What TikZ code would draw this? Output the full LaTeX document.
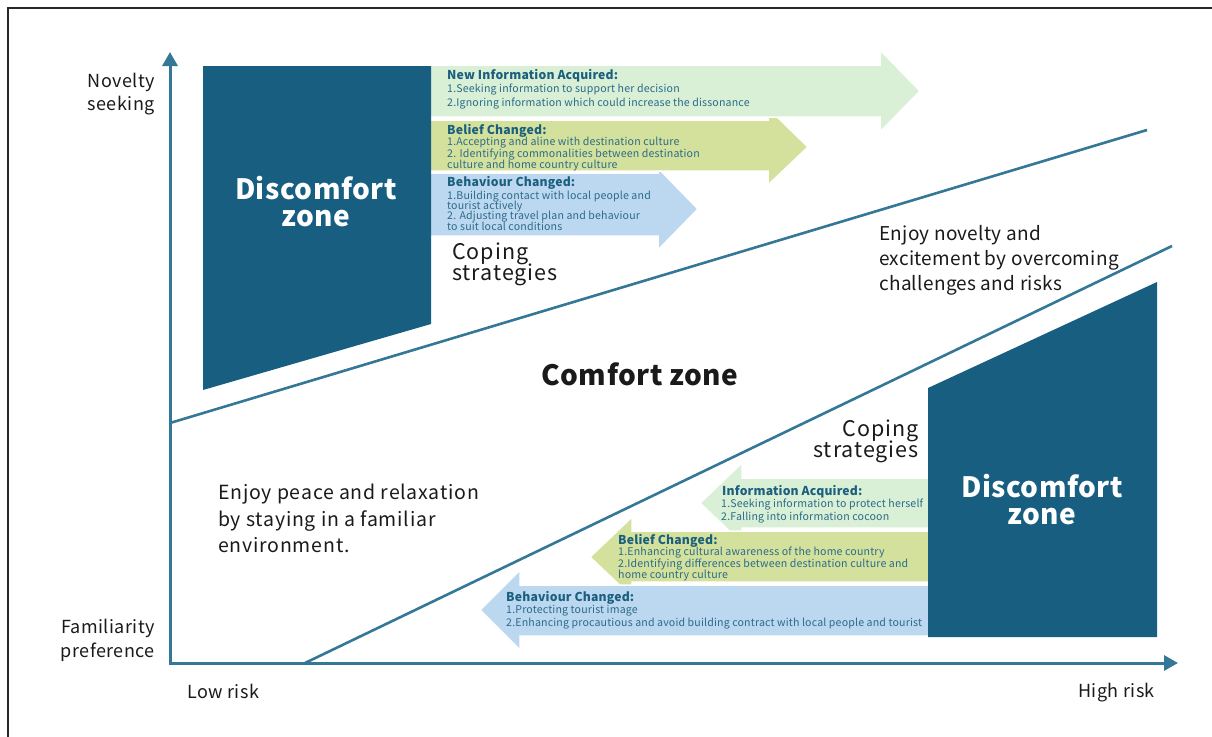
\documentclass[tikz,border=0pt]{standalone}
\usepackage{fontspec}
\setmainfont{Noto Sans CJK SC}
\usetikzlibrary{arrows.meta}
\definecolor{zonefill}{RGB}{24,94,128}
\definecolor{axisblue}{RGB}{52,119,150}
\definecolor{infogreen}{RGB}{217,239,214}
\definecolor{beliefgreen}{RGB}{212,225,157}
\definecolor{behavblue}{RGB}{188,216,240}
\definecolor{headteal}{RGB}{27,95,126}
\definecolor{itemteal}{RGB}{42,107,138}
\definecolor{inkblack}{RGB}{26,26,26}
\definecolor{framegray}{RGB}{40,40,40}

% font size with tracking: size, leading, letter spacing (fixed leading, no lineskip)
\newcommand{\tracked}[3]{\fontsize{#1}{#2}\selectfont\addfontfeatures{LetterSpace=#3}\lineskiplimit=-30pt\lineskip=0pt}

\begin{document}
\begin{tikzpicture}[x=1pt,y=-1pt,
  axisline/.style={draw=axisblue, line width=3pt, line join=miter},
  zoneline/.style={draw=axisblue, line width=2.6pt},
  zoneshape/.style={fill=zonefill},
  bandarrow/.style={draw=white, line width=1.5pt, line join=miter},
  zonelabel/.style={text=white, inner sep=0pt, align=center, font=\bfseries\tracked{28}{26.5}{1.8}, anchor=base},
  axistext/.style={text=inkblack, inner sep=0pt, font=\tracked{18}{23.5}{2.5}},
  copetext/.style={text=inkblack, inner sep=0pt, font=\tracked{21.5}{20.5}{4.5}},
  headtext/.style={text=headteal, inner sep=0pt, anchor=base west, font=\bfseries\tracked{12.2}{13}{1.5}},
  itemtext/.style={text=itemteal, inner sep=0pt, anchor=base west, align=left},
]
% page area and frame
\useasboundingbox (0,0) rectangle (1212,736);
\draw[framegray, line width=1.5pt] (8,745) -- (8,8) -- (1220,8);

% coping-strategy bands, upper group (pointing right)
\fill[behavblue, bandarrow] (425,173) -- (658,173) -- (658,168) -- (698,209) -- (658,250) -- (658,236) -- (425,236) -- cycle;
\fill[beliefgreen, bandarrow] (425,120) -- (768,120) -- (768,108) -- (808,147) -- (768,185) -- (768,171) -- (425,171) -- cycle;
\fill[infogreen, bandarrow] (425,65) -- (880,65) -- (880,50) -- (920,91) -- (880,132) -- (880,117) -- (425,117) -- cycle;

% coping-strategy bands, lower group (pointing left)
\fill[infogreen, bandarrow] (935,478) -- (742,478) -- (742,463) -- (700,503) -- (742,543) -- (742,528) -- (935,528) -- cycle;
\fill[beliefgreen, bandarrow] (935,531) -- (632,531) -- (632,517) -- (590,557) -- (632,597) -- (632,582) -- (935,582) -- cycle;
\fill[behavblue, bandarrow] (935,585) -- (520,585) -- (520,570) -- (480,610) -- (520,650) -- (520,636) -- (935,636) -- cycle;

% discomfort zones
\fill[zoneshape] (203,66) -- (431,66) -- (431,324) -- (203,390) -- cycle;
\fill[zoneshape] (928,388) -- (1157,282) -- (1157,637) -- (928,637) -- cycle;

% axes
\coordinate (origin) at (170,663);
\coordinate (ytip) at (170,52);
\coordinate (xtip) at (1178,663);
\draw[axisline, {Triangle[width=15pt,length=14pt]}-{Triangle[width=15pt,length=14pt]}] (ytip) -- (origin) -- (xtip);

% zone boundaries
\coordinate (upA) at (170,423);
\coordinate (upB) at (1147,130);
\coordinate (loA) at (305,663);
\coordinate (loB) at (1172,246);
\draw[zoneline] (upA) -- (upB);
\draw[zoneline] (loA) -- (loB);

% zone labels (multi-line nodes sit on their last baseline)
\node[zonelabel] (dz1) at (316,226) {Discomfort\\zone};
\node[zonelabel] (dz2) at (1042,524) {Discomfort\\zone};
\node[zonelabel, text=inkblack] (cz) at (640,385) {Comfort zone};

% axis labels
\node[axistext, align=right, anchor=base east] (novelty) at (155,110.7) {Novelty\\seeking};
\node[axistext, align=right, anchor=base east] (familiar) at (155,657) {Familiarity\\preference};
\node[axistext, anchor=base west] (lowrisk) at (187,698) {Low risk};
\node[axistext, anchor=base east] (highrisk) at (1155,697) {High risk};

% zone descriptions
\node[text=inkblack, inner sep=0pt, anchor=base west, align=left, font=\tracked{19.5}{26.7}{4}] (peace) at (218,552.7) {Enjoy peace and relaxation\\by staying in a familiar\\environment.};
\node[text=inkblack, inner sep=0pt, anchor=base west, align=left, font=\tracked{19}{24.6}{1.5}] (novel) at (879,290) {Enjoy novelty and\\excitement by overcoming\\challenges and risks};

% coping strategies captions
\node[copetext, anchor=base west, align=left] (cope1) at (452,280) {Coping\\strategies};
\node[copetext, anchor=base east, align=right] (cope2) at (919,457) {Coping\\strategies};

% upper band texts
\node[headtext] (h1) at (447,79.5) {New Information Acquired:};
\node[itemtext, font=\tracked{10.6}{13.5}{1.6}] (i1) at (447,106) {1.Seeking information to support her decision\\2.Ignoring information which could increase the dissonance};
\node[headtext] (h2) at (447,134) {Belief Changed:};
\node[itemtext, font=\tracked{10.6}{11.5}{1.6}] (i2) at (447,168.5) {1.Accepting and aline with destination culture\\2. Identifying commonalities between destination\\culture and home country culture};
\node[headtext] (h3) at (447,186.5) {Behaviour Changed:};
\node[itemtext, font=\tracked{10.6}{10.3}{1.6}] (i3) at (447,230) {1.Building contact with local people and\\tourist actively\\2. Adjusting travel plan and behaviour\\to suit local conditions};

% lower band texts
\node[headtext] (h4) at (722,495) {Information Acquired:};
\node[itemtext, font=\tracked{10.6}{13}{1.6}] (i4) at (721,520) {1.Seeking information to protect herself\\2.Falling into information cocoon};
\node[headtext] (h5) at (618,544) {Belief Changed:};
\node[itemtext, font=\tracked{10.6}{11.3}{1.6}] (i5) at (618,578.5) {1.Enhancing cultural awareness of the home country\\2.Identifying differences between destination culture and\\home country culture};
\node[headtext] (h6) at (506,601) {Behaviour Changed:};
\node[itemtext, font=\tracked{10.6}{13}{1.6}] (i6) at (506,626) {1.Protecting tourist image\\2.Enhancing procautious and avoid building contract with local people and tourist};
\end{tikzpicture}
\end{document}
